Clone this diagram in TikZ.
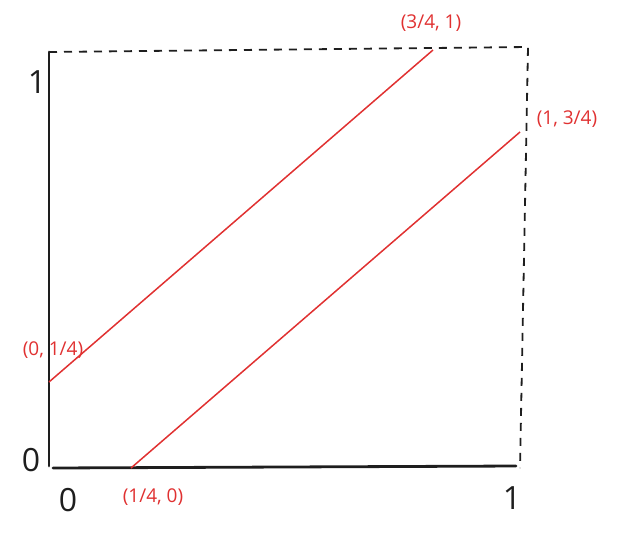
\documentclass[tikz,border=0pt]{standalone}
\usepackage{fontspec}
\setmainfont{Open Sans}
\definecolor{ink}{HTML}{1E1E1E}
\definecolor{redink}{HTML}{E03131}
\begin{document}
\begin{tikzpicture}[x=1pt,y=-1pt,
  axis/.style={draw=ink,line width=2.8pt,line cap=round},
  dashline/.style={draw=ink,line width=1.8pt,dash pattern=on 8pt off 7pt},
  redline/.style={draw=redink,line width=1.5pt},
  big/.style={text=ink,font=\fontsize{32}{34}\selectfont,inner sep=0pt},
  lab/.style={text=redink,font=\fontsize{19}{21}\selectfont,inner sep=0pt}]
\useasboundingbox (0,0) rectangle (617,538);
\coordinate (tl) at (49,52);
\coordinate (bl) at (49,466);
\coordinate (ol) at (53,468);
\coordinate (br) at (516,466);
\coordinate (tr) at (528,47);
\coordinate (brd) at (520,468);
\coordinate (a1) at (49,382);
\coordinate (a2) at (433,50);
\coordinate (b1) at (131,468);
\coordinate (b2) at (520,132);
\draw[axis] (tl) -- (bl);
\draw[axis] (ol) -- (br);
\draw[dashline] (tl) -- (tr) -- (brd);
\draw[redline] (a1) -- (a2);
\draw[redline] (b1) -- (b2);
\node[big] (y1) at (37,82) {1};
\node[big] (y0) at (31,460) {0};
\node[big] (x0) at (68,500) {0};
\node[big] (x1) at (512,498) {1};
\node[lab] (la) at (431,23) {(3/4, 1)};
\node[lab] (lb) at (567,119) {(1, 3/4)};
\node[lab] (lc) at (53,350) {(0, 1/4)};
\node[lab] (ld) at (153,497) {(1/4, 0)};
\end{tikzpicture}
\end{document}
